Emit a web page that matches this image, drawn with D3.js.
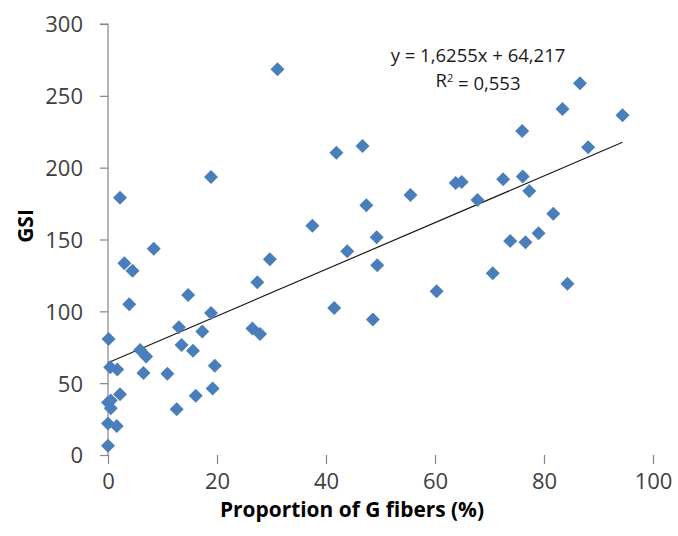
<!DOCTYPE html>
<html>
<head>
<meta charset="utf-8">
<script src="https://cdn.jsdelivr.net/npm/d3@7"></script>
<style>
  html, body { margin: 0; padding: 0; background: #fff; }
  svg { display: block; }
</style>
</head>
<body>
<svg id="chart" width="678" height="536"></svg>
<script>
// ---- data ----
const fiberPct = [
  0.0, 0.0, 1.6, 0.5, 0.0, 0.5, 0.4, 1.7, 0.1, 2.2,
  2.2, 3.0, 3.9, 4.5, 5.9, 7.0, 6.5, 8.4, 10.9, 12.6,
  13.0, 13.5, 14.7, 15.6, 16.1, 17.3, 18.9, 18.9, 19.2, 19.6,
  26.5, 27.4, 27.9, 29.7, 31.1, 37.5, 41.5, 41.9, 43.9, 46.7,
  47.4, 48.6, 49.3, 49.4, 55.5, 60.3, 63.8, 64.9, 67.8, 70.6,
  72.5, 73.8, 76.0, 76.1, 76.6, 77.3, 79.0, 81.7, 83.4, 84.3,
  86.6, 88.1, 94.4
];
const gsi = [
  6.5, 22, 20.2, 32.5, 36.5, 38, 61, 59.5, 80.7, 42.2,
  179, 133.5, 105, 128.3, 73, 68.5, 57, 143.5, 56.6, 31.8,
  89, 76.5, 111.3, 72.6, 41.3, 86, 98.8, 193.5, 46.3, 62.2,
  88, 120.2, 84.2, 136.3, 268.5, 159.6, 102.4, 210.4, 141.8, 215,
  173.9, 94.3, 151.6, 132, 181, 113.9, 189.3, 190, 177.5, 126.5,
  191.9, 149, 225.5, 193.8, 148, 183.8, 154.3, 168, 240.8, 119.2,
  258.8, 214.2, 236.4
];
const xTicks = [0, 20, 40, 60, 80, 100];
const yTicks = [0, 50, 100, 150, 200, 250, 300];
const trendSlope = 1.6255;
const trendIntercept = 64.217;
const equationLabel = "y = 1,6255x + 64,217";
const r2Label = "0,553";
const xTitle = "Proportion of G fibers (%)";
const yTitle = "GSI";

// ---- layout ----
const svg = d3.select("#chart");
const x = d3.scaleLinear().domain([0, 100]).range([108, 653]);
const y = d3.scaleLinear().domain([0, 300]).range([455, 24]);
const axisColor = "#868686";
const textColor = "#404040";
const tickFont = "'Open Sans', 'Liberation Sans', sans-serif";

// y axis
const gy = svg.append("g").attr("transform", `translate(${x(0)},0)`)
  .call(d3.axisLeft(y).tickValues(yTicks).tickSize(8).tickPadding(17).tickFormat(d3.format("d")));
// x axis
const gx = svg.append("g").attr("transform", `translate(0,${y(0)})`)
  .call(d3.axisBottom(x).tickValues(xTicks).tickSize(9).tickPadding(8).tickFormat(d3.format("d")));

[gx, gy].forEach(g => {
  g.select(".domain").attr("stroke", axisColor).attr("stroke-width", 1.2);
  g.selectAll(".tick line").attr("stroke", axisColor).attr("stroke-width", 1.2);
  g.selectAll(".tick text").attr("fill", textColor)
    .style("font-family", tickFont).style("font-size", "22px");
});
gy.select(".domain").attr("d", `M-8,${y(300)}H0V${y(0)}`);
gx.select(".domain").attr("d", `M${x(0)},${y(0)}H${x(100)}V${y(0) + 9}`);
gy.selectAll(".tick text").attr("dy", "0.36em");
gx.selectAll(".tick text").attr("dy", "0.75em");

// trend line
const xMin = d3.min(fiberPct), xMax = d3.max(fiberPct);
svg.append("line")
  .attr("x1", x(xMin)).attr("y1", y(trendSlope * xMin + trendIntercept))
  .attr("x2", x(xMax)).attr("y2", y(trendSlope * xMax + trendIntercept))
  .attr("stroke", "#1a1a1a").attr("stroke-width", 1.2);

// points (diamonds)
const diamond = d3.symbol().type(d3.symbolSquare).size(98);
svg.append("g").selectAll("path")
  .data(fiberPct.map((v, i) => [v, gsi[i]]))
  .join("path")
  .attr("d", diamond)
  .attr("transform", d => `translate(${x(d[0])},${y(d[1])}) rotate(45)`)
  .attr("fill", "#4A7EBB");

// equation
svg.append("text").attr("x", 478).attr("y", 62).attr("text-anchor", "middle")
  .attr("fill", "#1a1a1a").style("font-family", tickFont).style("font-size", "18.5px")
  .text(equationLabel);
const r2 = svg.append("text").attr("x", 478).attr("y", 87).attr("text-anchor", "middle")
  .attr("fill", "#1a1a1a").style("font-family", tickFont).style("font-size", "18.5px");
r2.append("tspan").text("R");
r2.append("tspan").attr("dy", "-0.45em").style("font-size", "11px").text("2");
r2.append("tspan").attr("dy", "0.45em").text(" = " + r2Label);

// axis titles
const xt = svg.append("text").attr("x", 352).attr("y", 517).attr("text-anchor", "middle")
  .attr("fill", "#000").style("font-family", tickFont).style("font-weight", "bold")
  .style("font-size", "21.5px").text(xTitle);
xt.attr("textLength", 264).attr("lengthAdjust", "spacingAndGlyphs");

svg.append("text").attr("transform", "translate(33,226) rotate(-90)").attr("text-anchor", "middle")
  .attr("fill", "#000").style("font-family", tickFont).style("font-weight", "bold")
  .style("font-size", "21px").text(yTitle);
</script>
</body>
</html>
